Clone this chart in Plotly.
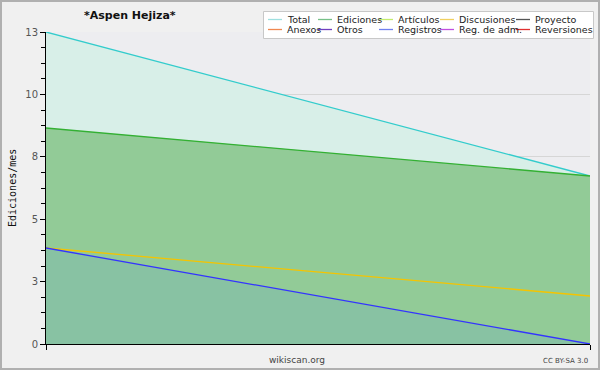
import plotly.graph_objects as go

# ---- data ----
months = [0, 1]
total = [13, 7]
ediciones = [9, 7]
discusiones = [4, 2]
registros = [4, 0]

y_tickvals = [0, 2.6, 5.2, 7.8, 10.4, 13]
y_ticktext = ["0", "3", "5", "8", "10", "13"]
y_minor = [0.65 * i for i in range(21)]

legend_names = ["Total", "Ediciones", "Artículos", "Discusiones", "Proyecto",
                "Anexos", "Otros", "Registros", "Reg. de adm.", "Reversiones"]
legend_colors = ["#9fe0e0", "#77c088", "#c4ec6c", "#f0d060", "#555555",
                 "#f08850", "#7040c0", "#7080f0", "#c050e0", "#e03030"]

title_text = "*Aspen Hejiza*"
ytitle = "Ediciones/mes"

# ---- geometry (pixels) ----
W, H = 600, 370
L, R, T, B = 46, 590, 32, 344
PW, PH = R - L, B - T


def px(x):
    return (x - L) / PW


def py(y):
    return (B - y) / PH


fig = go.Figure()
fig.add_trace(go.Scatter(x=months, y=total, mode="lines", fill="tozeroy",
                         fillcolor="#d8efe8", line=dict(color="#33cccc", width=1.3),
                         showlegend=False, name="Total"))
fig.add_trace(go.Scatter(x=months, y=ediciones, mode="lines", fill="tozeroy",
                         fillcolor="#92cb97", line=dict(color="#33b033", width=1.3),
                         showlegend=False, name="Ediciones"))
fig.add_trace(go.Scatter(x=months, y=discusiones, mode="lines",
                         line=dict(color="#f5c400", width=1.3),
                         showlegend=False, name="Discusiones"))
fig.add_trace(go.Scatter(x=months, y=registros, mode="lines", fill="tozeroy",
                         fillcolor="#88c2a3", line=dict(color="#3333ff", width=1.3),
                         showlegend=False, name="Registros"))

shapes = []
annotations = []

# outer border
shapes.append(dict(type="rect", xref="paper", yref="paper",
                   x0=px(1), x1=px(599), y0=py(1), y1=py(369),
                   line=dict(color="#b0b0b0", width=2), layer="above"))

# legend box
shapes.append(dict(type="rect", xref="paper", yref="paper",
                   x0=px(263.5), x1=px(593.5), y0=py(11.5), y1=py(38.5),
                   fillcolor="white", line=dict(color="#c8c8c8", width=1), layer="above"))
col_text_x = [285, 335, 396, 457, 533]
row_y = [19.5, 29.5]
for i, (name, color) in enumerate(zip(legend_names, legend_colors)):
    r, c = divmod(i, 5)
    tx = col_text_x[c]
    yy = row_y[r]
    shapes.append(dict(type="line", xref="paper", yref="paper",
                       x0=px(tx - 17), x1=px(tx - 3), y0=py(yy), y1=py(yy),
                       line=dict(color=color, width=1.3), layer="above"))
    annotations.append(dict(x=px(tx), y=py(yy), xref="paper", yref="paper",
                            text=name, showarrow=False, xanchor="left", yanchor="middle",
                            font=dict(family="DejaVu Sans", size=9.5, color="#222")))

annotations.append(dict(x=px(130), y=py(16), xref="paper", yref="paper", text="<b>" + title_text + "</b>",
                        showarrow=False, xanchor="center", yanchor="middle",
                        font=dict(family="DejaVu Sans", size=11, color="#111")))
annotations.append(dict(x=px(12), y=py(188), xref="paper", yref="paper", text=ytitle,
                        showarrow=False, textangle=-90, xanchor="center", yanchor="middle",
                        font=dict(family="DejaVu Sans Mono", size=10, color="#111")))
annotations.append(dict(x=px(297), y=py(360), xref="paper", yref="paper", text="wikiscan.org",
                        showarrow=False, xanchor="center", yanchor="middle",
                        font=dict(family="DejaVu Sans", size=9, color="#444")))
annotations.append(dict(x=px(590), y=py(361), xref="paper", yref="paper", text="CC BY-SA 3.0",
                        showarrow=False, xanchor="right", yanchor="middle",
                        font=dict(family="DejaVu Sans", size=7, color="#444")))

fig.update_layout(
    width=W, height=H,
    margin=dict(l=L, r=W - R, t=T, b=H - B, pad=0),
    paper_bgcolor="#f0f0f0", plot_bgcolor="#ededf0",
    showlegend=False,
    shapes=shapes, annotations=annotations,
    xaxis=dict(range=[0, 1], tickvals=[0, 1], showticklabels=False, ticks="outside",
               ticklen=5, tickcolor="black", showline=True, linecolor="black", linewidth=1,
               showgrid=False, zeroline=False, fixedrange=True),
    yaxis=dict(range=[0, 13], tickvals=y_tickvals, ticktext=y_ticktext, ticks="outside",
               ticklen=5, tickcolor="black", showline=True, linecolor="black", linewidth=1,
               showgrid=True, gridcolor="#d6d6d6", gridwidth=1, zeroline=False,
               tickfont=dict(family="DejaVu Sans", size=10, color="#555"),
               minor=dict(tickvals=y_minor, ticks="outside", ticklen=4, tickcolor="black", showgrid=False),
               fixedrange=True),
)

fig.write_html("out.html", config={"displayModeBar": False},
               post_script="document.body.style.margin='0px';document.body.style.overflow='hidden';")
